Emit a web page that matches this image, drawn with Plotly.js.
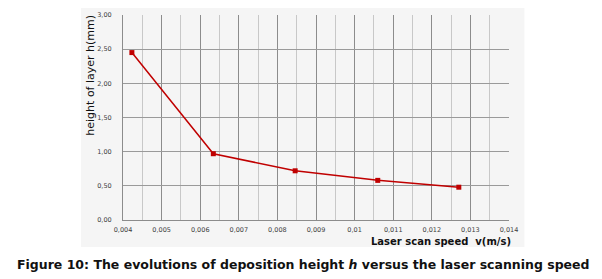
<!DOCTYPE html>
<html>
<head>
<meta charset="utf-8">
<script src="https://cdn.plot.ly/plotly-3.0.1.min.js"></script>
<style>html,body{margin:0;padding:0;background:#fff;}#chart{width:602px;height:279px;}</style>
</head>
<body>
<div id="chart"></div>
<script>
// Data
const scanSpeed = [0.00423, 0.00634, 0.00846, 0.0106, 0.0127];   // v (m/s)
const layerHeight = [2.45, 0.97, 0.72, 0.58, 0.48];              // h (mm)
const xTickVals = [0.004, 0.005, 0.006, 0.007, 0.008, 0.009, 0.010, 0.011, 0.012, 0.013, 0.014];
const xTickText = ["0,004", "0,005", "0,006", "0,007", "0,008", "0,009", "0,01", "0,011", "0,012", "0,013", "0,014"];
const yTickVals = [0, 0.5, 1.0, 1.5, 2.0, 2.5, 3.0];
const yTickText = ["0,00", "0,50", "1,00", "1,50", "2,00", "2,50", "3,00"];
const yTitle = "height of layer h(mm)";
const xTitle = "Laser scan speed&nbsp;&nbsp;v(m/s)";
const caption = "Figure 10: The evolutions of deposition height <i>h</i> versus the laser scanning speed";

const trace = {
  x: scanSpeed, y: layerHeight, type: 'scatter', mode: 'lines+markers',
  line: {color: '#c00000', width: 1.5},
  marker: {color: '#c00000', size: 5, symbol: 'square'},
  hoverinfo: 'none'
};

const tickFont = {family: 'DejaVu Sans, Verdana, sans-serif', size: 6.5, color: '#404040'};

const layout = {
  width: 602, height: 279,
  margin: {l: 123, r: 92.5, t: 15, b: 59, pad: 0},
  paper_bgcolor: '#ffffff',
  plot_bgcolor: '#f5f5f5',
  showlegend: false,
  xaxis: {
    range: [0.004, 0.014], tickmode: 'array', tickvals: xTickVals, ticktext: xTickText,
    tickfont: tickFont, showgrid: true, gridcolor: '#8c8c8c', gridwidth: 1,
    minor: {dtick: 0.0005, tick0: 0.004, showgrid: true, gridcolor: '#c8c8c8', gridwidth: 1, ticks: ''},
    zeroline: false, showline: true, linecolor: '#8c8c8c', linewidth: 1,
    ticks: '', ticklabelstandoff: 3, fixedrange: true
  },
  yaxis: {
    range: [0, 3.0], tickmode: 'array', tickvals: yTickVals, ticktext: yTickText,
    tickfont: tickFont, showgrid: true, gridcolor: '#9a9a9a', gridwidth: 1,
    zeroline: false, showline: true, linecolor: '#8c8c8c', linewidth: 1,
    ticks: '', ticklabelstandoff: 9, fixedrange: true
  },
  shapes: [{
    type: 'rect', xref: 'paper', yref: 'paper', layer: 'below',
    x0: -0.1087, x1: 1.040, y0: -0.1317, y1: 1.034,
    fillcolor: '#f5f5f5', line: {width: 0}
  }],
  annotations: [
    {text: yTitle, xref: 'paper', yref: 'paper', x: -0.085, y: 1.0098,
     xanchor: 'center', yanchor: 'top', textangle: -90, showarrow: false,
     font: {family: 'DejaVu Sans, Verdana, sans-serif', size: 11, color: '#111111'}},
    {text: xTitle, xref: 'paper', yref: 'paper', x: 1.01, y: -0.103,
     xanchor: 'right', yanchor: 'middle', showarrow: false,
     font: {family: 'DejaVu Sans, Verdana, sans-serif', size: 10, color: '#111111', weight: 'bold'}},
    {text: caption, xref: 'paper', yref: 'paper', x: 0.467, y: -0.2195,
     xanchor: 'center', yanchor: 'middle', showarrow: false,
     font: {family: 'DejaVu Sans, Verdana, sans-serif', size: 12.5, color: '#111111', weight: 'bold'}}
  ]
};

Plotly.newPlot('chart', [trace], layout, {displayModeBar: false, staticPlot: true});
</script>
</body>
</html>
